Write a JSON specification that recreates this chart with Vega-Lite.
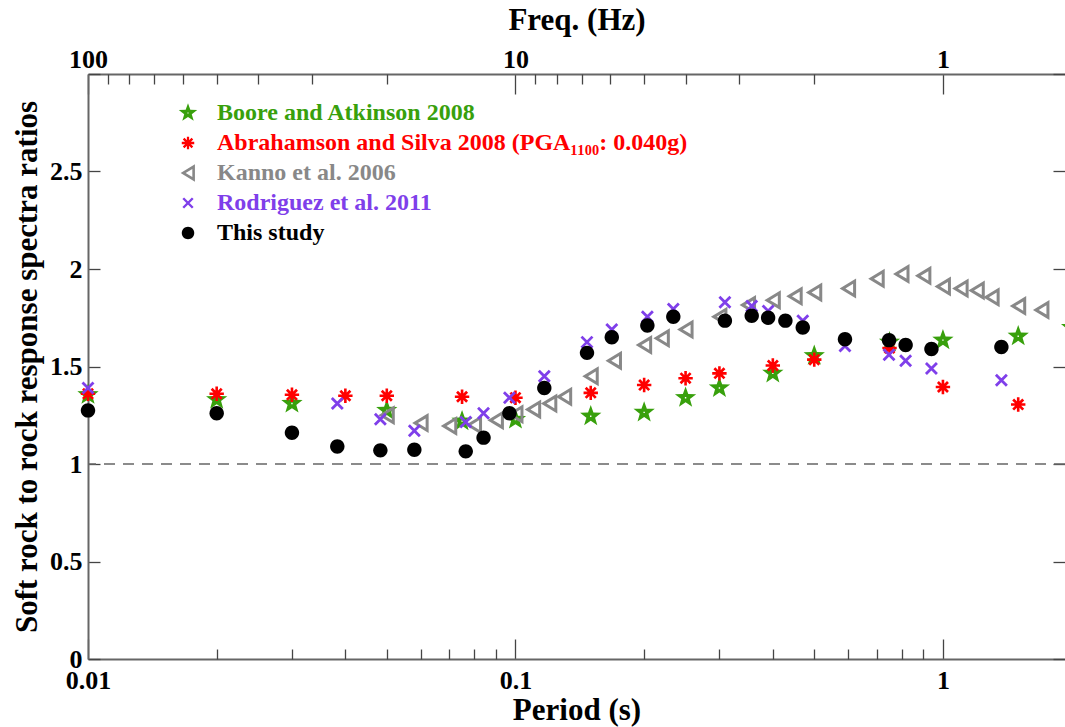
{
  "$schema": "https://vega.github.io/schema/vega-lite/v6.json",
  "width": 977,
  "height": 585,
  "autosize": {"type": "none"},
  "padding": {"left": 88, "top": 74, "right": 0, "bottom": 68},
  "config": {
    "font": "Liberation Serif",
    "view": {"stroke": null},
    "legend": {"labelFont": "Liberation Serif", "labelFontWeight": "bold"},
    "axis": {
      "labelFont": "Liberation Serif", "labelFontSize": 26, "labelFontWeight": "bold", "labelColor": "black",
      "titleFont": "Liberation Serif", "titleFontSize": 31, "titleFontWeight": "bold", "titleColor": "black",
      "domainColor": "#666666", "domainWidth": 2, "tickColor": "#444444", "tickWidth": 1.3,
      "grid": false, "labelFlush": false, "labelOverlap": false
    }
  },
  "datasets": {
    "pts": [
      {"model": "Boore and Atkinson 2008", "period": 0.01, "ratio": 1.355},
      {"model": "Boore and Atkinson 2008", "period": 0.02, "ratio": 1.33},
      {"model": "Boore and Atkinson 2008", "period": 0.03, "ratio": 1.31},
      {"model": "Boore and Atkinson 2008", "period": 0.05, "ratio": 1.275},
      {"model": "Boore and Atkinson 2008", "period": 0.075, "ratio": 1.22},
      {"model": "Boore and Atkinson 2008", "period": 0.1, "ratio": 1.228},
      {"model": "Boore and Atkinson 2008", "period": 0.15, "ratio": 1.245},
      {"model": "Boore and Atkinson 2008", "period": 0.2, "ratio": 1.265},
      {"model": "Boore and Atkinson 2008", "period": 0.25, "ratio": 1.34},
      {"model": "Boore and Atkinson 2008", "period": 0.3, "ratio": 1.39},
      {"model": "Boore and Atkinson 2008", "period": 0.4, "ratio": 1.465},
      {"model": "Boore and Atkinson 2008", "period": 0.5, "ratio": 1.555},
      {"model": "Boore and Atkinson 2008", "period": 0.75, "ratio": 1.625},
      {"model": "Boore and Atkinson 2008", "period": 1.0, "ratio": 1.635},
      {"model": "Boore and Atkinson 2008", "period": 1.5, "ratio": 1.655},
      {"model": "Boore and Atkinson 2008", "period": 2.0, "ratio": 1.70},
      {"model": "Kanno et al. 2006", "period": 0.05, "ratio": 1.25},
      {"model": "Kanno et al. 2006", "period": 0.06, "ratio": 1.21},
      {"model": "Kanno et al. 2006", "period": 0.07, "ratio": 1.195},
      {"model": "Kanno et al. 2006", "period": 0.08, "ratio": 1.20},
      {"model": "Kanno et al. 2006", "period": 0.09, "ratio": 1.225},
      {"model": "Kanno et al. 2006", "period": 0.1, "ratio": 1.255},
      {"model": "Kanno et al. 2006", "period": 0.11, "ratio": 1.28},
      {"model": "Kanno et al. 2006", "period": 0.12, "ratio": 1.31},
      {"model": "Kanno et al. 2006", "period": 0.13, "ratio": 1.345},
      {"model": "Kanno et al. 2006", "period": 0.15, "ratio": 1.45},
      {"model": "Kanno et al. 2006", "period": 0.17, "ratio": 1.53},
      {"model": "Kanno et al. 2006", "period": 0.2, "ratio": 1.61},
      {"model": "Kanno et al. 2006", "period": 0.22, "ratio": 1.645},
      {"model": "Kanno et al. 2006", "period": 0.25, "ratio": 1.69},
      {"model": "Kanno et al. 2006", "period": 0.3, "ratio": 1.755},
      {"model": "Kanno et al. 2006", "period": 0.35, "ratio": 1.815},
      {"model": "Kanno et al. 2006", "period": 0.4, "ratio": 1.84},
      {"model": "Kanno et al. 2006", "period": 0.45, "ratio": 1.86},
      {"model": "Kanno et al. 2006", "period": 0.5, "ratio": 1.88},
      {"model": "Kanno et al. 2006", "period": 0.6, "ratio": 1.90},
      {"model": "Kanno et al. 2006", "period": 0.7, "ratio": 1.95},
      {"model": "Kanno et al. 2006", "period": 0.8, "ratio": 1.975},
      {"model": "Kanno et al. 2006", "period": 0.9, "ratio": 1.965},
      {"model": "Kanno et al. 2006", "period": 1.0, "ratio": 1.91},
      {"model": "Kanno et al. 2006", "period": 1.1, "ratio": 1.90},
      {"model": "Kanno et al. 2006", "period": 1.2, "ratio": 1.89},
      {"model": "Kanno et al. 2006", "period": 1.3, "ratio": 1.855},
      {"model": "Kanno et al. 2006", "period": 1.5, "ratio": 1.81},
      {"model": "Kanno et al. 2006", "period": 1.7, "ratio": 1.79},
      {"model": "Abrahamson and Silva 2008 (PGA₁₁₀₀: 0.040g)", "period": 0.01, "ratio": 1.36},
      {"model": "Abrahamson and Silva 2008 (PGA₁₁₀₀: 0.040g)", "period": 0.02, "ratio": 1.36},
      {"model": "Abrahamson and Silva 2008 (PGA₁₁₀₀: 0.040g)", "period": 0.03, "ratio": 1.355},
      {"model": "Abrahamson and Silva 2008 (PGA₁₁₀₀: 0.040g)", "period": 0.04, "ratio": 1.35},
      {"model": "Abrahamson and Silva 2008 (PGA₁₁₀₀: 0.040g)", "period": 0.05, "ratio": 1.35},
      {"model": "Abrahamson and Silva 2008 (PGA₁₁₀₀: 0.040g)", "period": 0.075, "ratio": 1.345},
      {"model": "Abrahamson and Silva 2008 (PGA₁₁₀₀: 0.040g)", "period": 0.1, "ratio": 1.34},
      {"model": "Abrahamson and Silva 2008 (PGA₁₁₀₀: 0.040g)", "period": 0.15, "ratio": 1.365},
      {"model": "Abrahamson and Silva 2008 (PGA₁₁₀₀: 0.040g)", "period": 0.2, "ratio": 1.405},
      {"model": "Abrahamson and Silva 2008 (PGA₁₁₀₀: 0.040g)", "period": 0.25, "ratio": 1.44},
      {"model": "Abrahamson and Silva 2008 (PGA₁₁₀₀: 0.040g)", "period": 0.3, "ratio": 1.465},
      {"model": "Abrahamson and Silva 2008 (PGA₁₁₀₀: 0.040g)", "period": 0.4, "ratio": 1.505},
      {"model": "Abrahamson and Silva 2008 (PGA₁₁₀₀: 0.040g)", "period": 0.5, "ratio": 1.535},
      {"model": "Abrahamson and Silva 2008 (PGA₁₁₀₀: 0.040g)", "period": 0.75, "ratio": 1.595},
      {"model": "Abrahamson and Silva 2008 (PGA₁₁₀₀: 0.040g)", "period": 1.0, "ratio": 1.395},
      {"model": "Abrahamson and Silva 2008 (PGA₁₁₀₀: 0.040g)", "period": 1.5, "ratio": 1.305},
      {"model": "Rodriguez et al. 2011", "period": 0.01, "ratio": 1.39},
      {"model": "Rodriguez et al. 2011", "period": 0.0383, "ratio": 1.31},
      {"model": "Rodriguez et al. 2011", "period": 0.0483, "ratio": 1.23},
      {"model": "Rodriguez et al. 2011", "period": 0.058, "ratio": 1.17},
      {"model": "Rodriguez et al. 2011", "period": 0.0765, "ratio": 1.215},
      {"model": "Rodriguez et al. 2011", "period": 0.0842, "ratio": 1.26},
      {"model": "Rodriguez et al. 2011", "period": 0.0968, "ratio": 1.34},
      {"model": "Rodriguez et al. 2011", "period": 0.1168, "ratio": 1.45},
      {"model": "Rodriguez et al. 2011", "period": 0.147, "ratio": 1.625},
      {"model": "Rodriguez et al. 2011", "period": 0.168, "ratio": 1.69},
      {"model": "Rodriguez et al. 2011", "period": 0.2035, "ratio": 1.755},
      {"model": "Rodriguez et al. 2011", "period": 0.234, "ratio": 1.795},
      {"model": "Rodriguez et al. 2011", "period": 0.309, "ratio": 1.83},
      {"model": "Rodriguez et al. 2011", "period": 0.357, "ratio": 1.81},
      {"model": "Rodriguez et al. 2011", "period": 0.39, "ratio": 1.785},
      {"model": "Rodriguez et al. 2011", "period": 0.47, "ratio": 1.735},
      {"model": "Rodriguez et al. 2011", "period": 0.59, "ratio": 1.605},
      {"model": "Rodriguez et al. 2011", "period": 0.748, "ratio": 1.56},
      {"model": "Rodriguez et al. 2011", "period": 0.818, "ratio": 1.53},
      {"model": "Rodriguez et al. 2011", "period": 0.94, "ratio": 1.49},
      {"model": "Rodriguez et al. 2011", "period": 1.37, "ratio": 1.43},
      {"model": "This study", "period": 0.01, "ratio": 1.275},
      {"model": "This study", "period": 0.02, "ratio": 1.26},
      {"model": "This study", "period": 0.03, "ratio": 1.16},
      {"model": "This study", "period": 0.0383, "ratio": 1.09},
      {"model": "This study", "period": 0.0483, "ratio": 1.07},
      {"model": "This study", "period": 0.058, "ratio": 1.073},
      {"model": "This study", "period": 0.0765, "ratio": 1.065},
      {"model": "This study", "period": 0.0842, "ratio": 1.135},
      {"model": "This study", "period": 0.0968, "ratio": 1.26},
      {"model": "This study", "period": 0.1168, "ratio": 1.39},
      {"model": "This study", "period": 0.147, "ratio": 1.57},
      {"model": "This study", "period": 0.168, "ratio": 1.65},
      {"model": "This study", "period": 0.2035, "ratio": 1.71},
      {"model": "This study", "period": 0.234, "ratio": 1.755},
      {"model": "This study", "period": 0.309, "ratio": 1.735},
      {"model": "This study", "period": 0.357, "ratio": 1.76},
      {"model": "This study", "period": 0.39, "ratio": 1.75},
      {"model": "This study", "period": 0.428, "ratio": 1.735},
      {"model": "This study", "period": 0.47, "ratio": 1.70},
      {"model": "This study", "period": 0.59, "ratio": 1.64},
      {"model": "This study", "period": 0.748, "ratio": 1.635},
      {"model": "This study", "period": 0.818, "ratio": 1.61},
      {"model": "This study", "period": 0.94, "ratio": 1.59},
      {"model": "This study", "period": 1.37, "ratio": 1.60}
    ]
  },
  "layer": [
    {
      "data": {"values": [{"ref": 1}]},
      "mark": {"type": "rule", "color": "#666666", "strokeWidth": 1.5, "strokeDash": [11, 8]},
      "encoding": {
        "y": {"field": "ref", "type": "quantitative", "scale": {"domain": [0, 3], "nice": false},
          "axis": {"orient": "right", "values": [0, 0.5, 1, 1.5, 2, 2.5, 3], "labels": false, "domain": false, "tickSize": -12, "title": null}}
      }
    },
    {
      "data": {"name": "pts"},
      "mark": {"type": "point", "filled": true, "opacity": 1, "size": 400, "strokeWidth": 0},
      "encoding": {
        "x": {"field": "period", "type": "quantitative",
          "scale": {"type": "log", "domain": [0.01, 1.93], "nice": false},
          "axis": {"orient": "bottom", "values": [0.01, 0.1, 1], "labelExpr": "datum.value < 0.05 ? '0.01' : datum.value < 0.5 ? '0.1' : '1'", "tickSize": -20, "labelPadding": 28, "title": "Period (s)", "titlePadding": 2}},
        "y": {"field": "ratio", "type": "quantitative", "scale": {"domain": [0, 3], "nice": false},
          "axis": {"orient": "left", "values": [0, 0.5, 1, 1.5, 2, 2.5, 3], "labelExpr": "datum.value == 3 ? '' : format(datum.value, '~g')", "tickSize": -12, "labelPadding": 18, "title": "Soft rock to rock response spectra ratios", "titlePadding": 6}},
        "color": {"field": "model", "type": "nominal",
          "scale": {"domain": ["Boore and Atkinson 2008", "Abrahamson and Silva 2008 (PGA₁₁₀₀: 0.040g)", "Kanno et al. 2006", "Rodriguez et al. 2011", "This study"],
            "range": ["#38a00c", "#ff0000", "#888888", "#7f3fea", "#000000"]},
          "legend": {"orient": "none", "legendX": 88, "legendY": 27, "title": null, "padding": 0,
            "labelFont": "Liberation Serif", "labelFontSize": 24, "labelFontWeight": "bold", "labelLimit": 800,
            "labelColor": {"expr": "datum.value == 'Boore and Atkinson 2008' ? '#38a00c' : datum.value == 'Kanno et al. 2006' ? '#888888' : datum.value == 'Rodriguez et al. 2011' ? '#7f3fea' : datum.value == 'This study' ? '#000000' : '#ff0000'"},
            "symbolSize": 300, "symbolStrokeWidth": 0, "labelOffset": 17, "rowPadding": 6}},
        "shape": {"field": "model", "type": "nominal",
          "scale": {"domain": ["Boore and Atkinson 2008", "Abrahamson and Silva 2008 (PGA₁₁₀₀: 0.040g)", "Kanno et al. 2006", "Rodriguez et al. 2011", "This study"],
            "range": [
              "M0,-1.12L0.27,-0.37L1.065,-0.346L0.436,0.142L0.659,0.906L0,0.46L-0.659,0.906L-0.436,0.142L-1.065,-0.346L-0.27,-0.37Z M-0.07,-0.07L-0.07,0.07L0.07,0.07L0.07,-0.07Z",
              "M-0.13,-0.72L0.13,-0.72L0.13,0.72L-0.13,0.72Z M-0.72,-0.13L0.72,-0.13L0.72,0.13L-0.72,0.13Z M-0.41,-0.6L0.6,0.41L0.41,0.6L-0.6,-0.41Z M0.6,-0.41L-0.41,0.6L-0.6,0.41L0.41,-0.6Z",
              "M-0.85,0L0.8,-1.0L0.8,1.0Z M-0.271,0L0.5,0.467L0.5,-0.467Z",
              "M-0.451,-0.649L0.649,0.451L0.451,0.649L-0.649,-0.451Z M0.649,-0.451L-0.451,0.649L-0.649,0.451L0.451,-0.649Z",
              "M0.72,0A0.72,0.72 0 1,1 -0.72,0A0.72,0.72 0 1,1 0.72,0Z"
            ]}}
      }
    },
    {
      "data": {"name": "pts"},
      "mark": {"type": "point", "opacity": 0},
      "encoding": {
        "x": {"field": "period", "type": "quantitative",
          "scale": {"type": "log", "domain": [0.01, 1.93], "nice": false},
          "axis": {"orient": "top", "values": [0.01, 0.1, 1], "labelExpr": "datum.value < 0.05 ? '100' : datum.value < 0.5 ? '10' : '1'", "tickSize": -20, "labelPadding": 22, "title": "Freq. (Hz)", "titlePadding": 10}},
        "y": {"field": "ratio", "type": "quantitative", "scale": {"domain": [0, 3], "nice": false}, "axis": null}
      }
    },
    {
      "data": {"name": "pts"},
      "mark": {"type": "point", "opacity": 0},
      "encoding": {
        "x": {"field": "period", "type": "quantitative",
          "scale": {"type": "log", "domain": [0.01, 1.93], "nice": false},
          "axis": {"orient": "top", "values": [0.011111, 0.0125, 0.0142857, 0.0166667, 0.02, 0.025, 0.0333333, 0.05, 0.111111, 0.125, 0.142857, 0.166667, 0.2, 0.25, 0.333333, 0.5], "labels": false, "domain": false, "tickSize": -10, "title": null}},
        "y": {"field": "ratio", "type": "quantitative", "scale": {"domain": [0, 3], "nice": false}, "axis": null}
      }
    },
    {
      "data": {"name": "pts"},
      "mark": {"type": "point", "opacity": 0},
      "encoding": {
        "x": {"field": "period", "type": "quantitative",
          "scale": {"type": "log", "domain": [0.01, 1.93], "nice": false},
          "axis": {"orient": "bottom", "values": [0.02, 0.03, 0.04, 0.05, 0.06, 0.07, 0.08, 0.09, 0.2, 0.3, 0.4, 0.5, 0.6, 0.7, 0.8, 0.9], "labels": false, "domain": false, "tickSize": -10, "title": null}},
        "y": {"field": "ratio", "type": "quantitative", "scale": {"domain": [0, 3], "nice": false}, "axis": null}
      }
    }
  ],
  "resolve": {"axis": {"x": "independent", "y": "independent"}}
}
